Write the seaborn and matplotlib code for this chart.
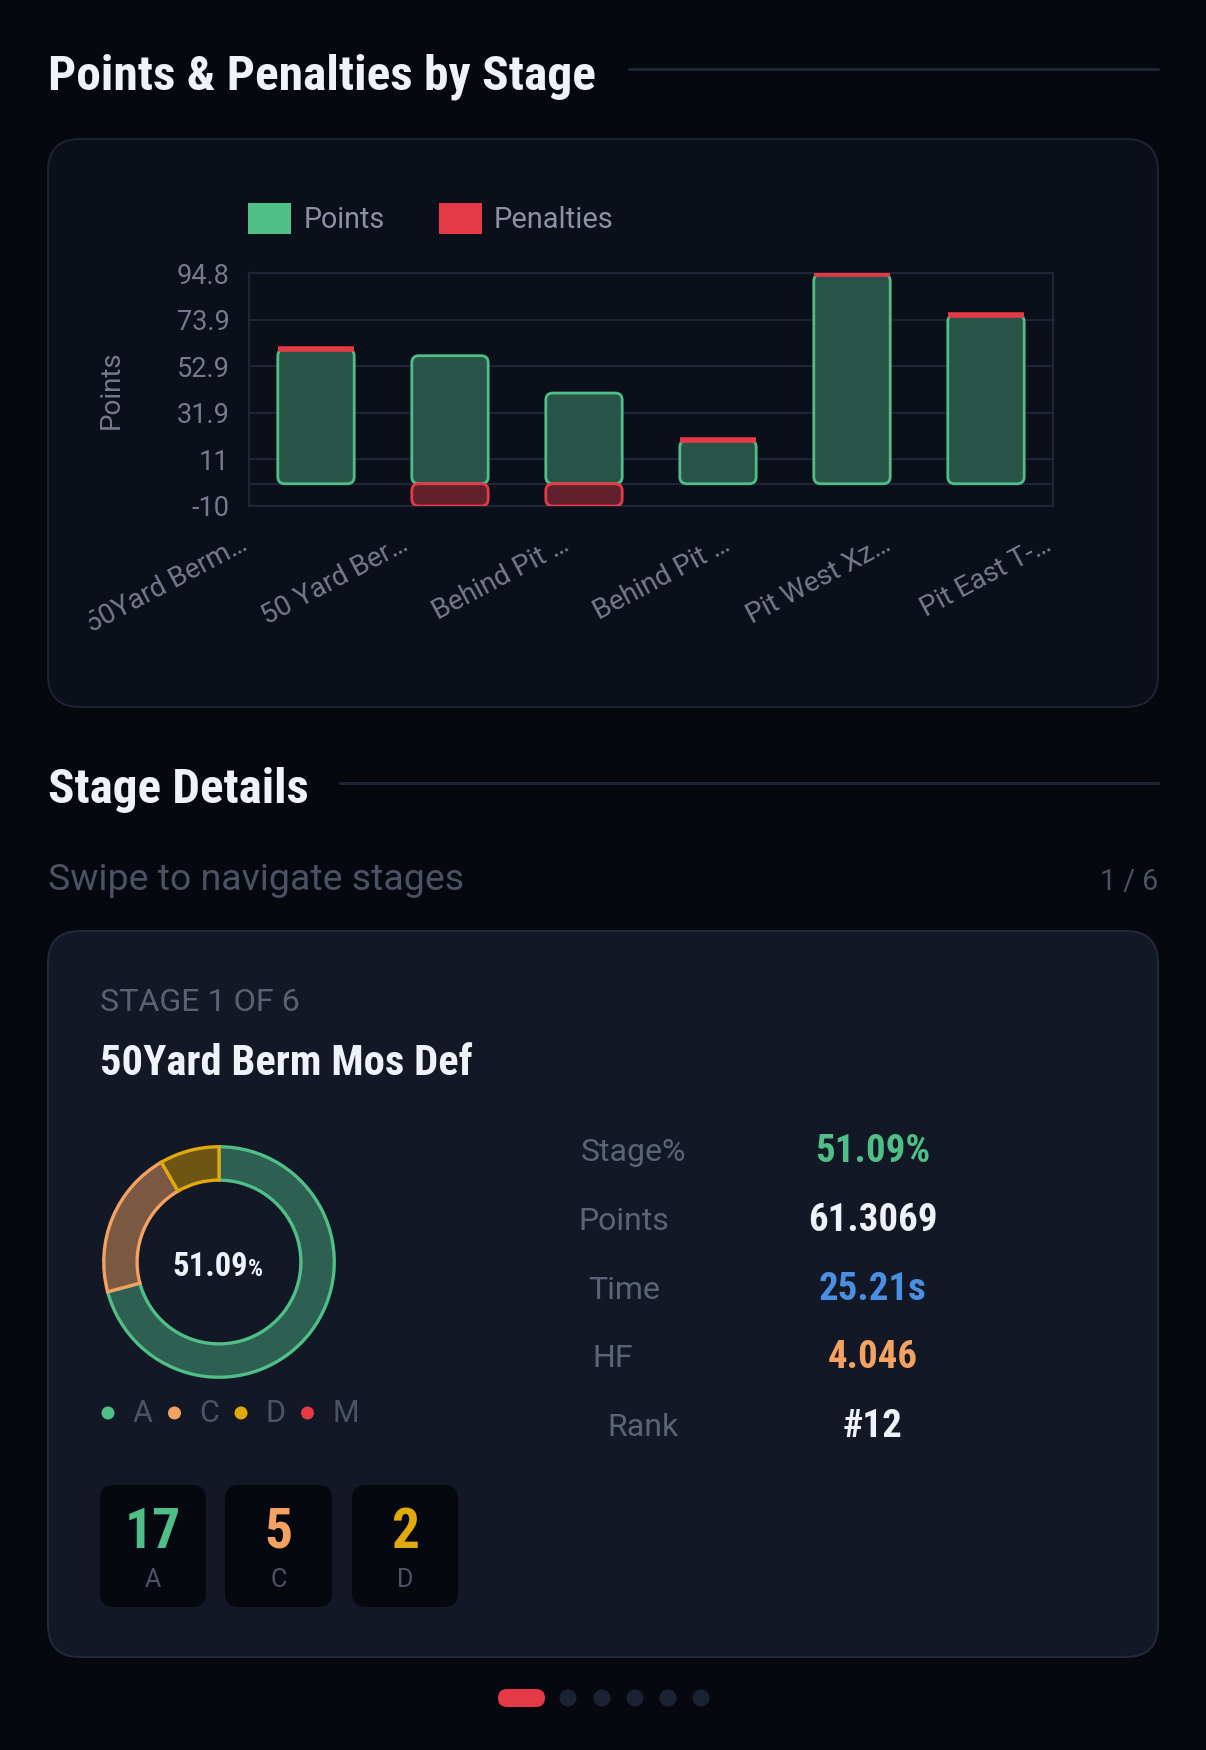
import matplotlib
matplotlib.use("Agg")
import numpy as np
import pandas as pd
import matplotlib.pyplot as plt
import seaborn as sns
from matplotlib import font_manager
from matplotlib.patches import FancyBboxPatch, Rectangle, Circle
from matplotlib.transforms import Bbox

# data
stage_ids = ["s1", "s2", "s3", "s4", "s5", "s6"]
stage_labels = ["50Yard Berm…", "50 Yard Ber…", "Behind Pit …", "Behind Pit …", "Pit West Xz…", "Pit East T-…"]
points = [60.6, 57.6, 40.8, 19.6, 94.3, 76.0]
penalties = [0, -10, -10, 0, 0, 0]
y_ticks = [-10, 10.96, 31.92, 52.88, 73.84, 94.8]
y_tick_labels = ["-10", "11", "31.9", "52.9", "73.9", "94.8"]

hit_labels = ["A", "C", "D", "M"]
hit_counts = [17, 5, 2, 0]
stat_labels = ["Stage%", "Points", "Time", "HF", "Rank"]
stat_values = ["51.09%", "61.3069", "25.21s", "4.046", "#12"]
stage_pct = "51.09"
stage_name = "50Yard Berm Mos Def"

# colours
PAGE = "#05080f"
CARD1 = "#0b0f1a"
CARD2 = "#131826"
BORDER = "#1c2231"
GRID = "#1e2535"
WHITE = "#f0f2f9"
MUTED = "#737b8c"
DIM = "#4a5263"
GREEN = "#4fbf87"
RED = "#e63946"
ORANGE = "#f4a261"
YELLOW = "#e2a90c"
BLUE = "#4a90e2"
BAR_FILL = "#285448"
PEN_FILL = "#60212d"
PIE_FILLS = ["#2d5f52", "#7a5842", "#6d5613", "#5a2029"]
PIE_EDGES = [GREEN, ORANGE, YELLOW, RED]

sns.set_style("dark")
names = {f.name for f in font_manager.fontManager.ttflist}
HEAD = next((n for n in ["Roboto Condensed", "Liberation Sans Narrow", "Roboto"] if n in names), "DejaVu Sans")
BODY = "Roboto" if "Roboto" in names else "DejaVu Sans"
plt.rcParams["font.family"] = [BODY, "DejaVu Sans"]

W, H = 1206, 1750
fig = plt.figure(figsize=(W / 100, H / 100), dpi=100, facecolor=PAGE)
renderer = fig.canvas.get_renderer()

bg = fig.add_axes([0, 0, 1, 1], zorder=0)
bg.set_xlim(0, W)
bg.set_ylim(H, 0)
bg.axis("off")


def box(x0, y0, x1, y1, r, fc, ec="none", lw=0):
    bg.add_patch(FancyBboxPatch((x0, y0), x1 - x0, y1 - y0,
                                boxstyle=f"round,pad=0,rounding_size={r}",
                                fc=fc, ec=ec, lw=lw))


def txt(x, y, s, color, size=20, weight="normal", family=None, ha="left",
        va="baseline", width=None):
    t = bg.text(x, y, s, color=color, fontsize=size, fontweight=weight,
                family=[family or BODY, "DejaVu Sans"], ha=ha, va=va)
    if width:
        w = t.get_window_extent(renderer).width
        t.set_fontsize(size * width / w)
    return t


# section 1 header + card
txt(48, 90, "Points & Penalties by Stage", WHITE, 36, "heavy", HEAD, width=548)
bg.plot([629, 1158], [69, 69], color=GRID, lw=2.2)
box(48, 139, 1158, 707, 32, CARD1, BORDER, 1.5)

# legend
bg.add_patch(Rectangle((248, 203), 43, 31, fc=GREEN, ec="none"))
txt(304, 228, "Points", "#8a92a3", 20, width=81)
bg.add_patch(Rectangle((439, 203), 43, 31, fc=RED, ec="none"))
txt(494, 228, "Penalties", "#8a92a3", 20, width=119)

# bar chart
ax_w, ax_h = 804, 233
ax = fig.add_axes([249 / W, 1 - 506 / H, ax_w / W, ax_h / H], zorder=2)
ax.set_facecolor("none")
df = pd.DataFrame({"stage": stage_ids, "points": points, "penalty": penalties})
sns.barplot(data=df, x="stage", y="points", order=stage_ids, color=BAR_FILL,
            saturation=1, width=0.57, edgecolor=GREEN, linewidth=2.0,
            errorbar=None, ax=ax, zorder=3)
pen = df[df["penalty"] < 0]
sns.barplot(data=pen, x="stage", y="penalty", order=stage_ids, color=PEN_FILL,
            saturation=1, width=0.57, edgecolor=RED, linewidth=2.0,
            errorbar=None, ax=ax, zorder=3)

ax.set_xlim(-0.5, len(stage_ids) - 0.5)
ax.set_ylim(y_ticks[0], y_ticks[-1])

# give the seaborn bars rounded corners like the original
x_per_px = len(stage_ids) / ax_w
y_per_px = (y_ticks[-1] - y_ticks[0]) / ax_h
for p in list(ax.patches):
    x0, y0, w, h = p.get_x(), p.get_y(), p.get_width(), p.get_height()
    if h < 0:
        y0, h = y0 + h, -h
    rb = FancyBboxPatch((x0, y0), w, h,
                        boxstyle=f"round,pad=0,rounding_size={7 * x_per_px}",
                        mutation_aspect=y_per_px / x_per_px,
                        fc=p.get_facecolor(), ec=p.get_edgecolor(),
                        lw=p.get_linewidth(), zorder=3)
    ax.add_patch(rb)
    p.set_visible(False)

# zero penalties sit on top of the points stack
cap = df.index[df["penalty"] == 0]
caps = ax.bar(cap, df.loc[cap, "penalty"], bottom=df.loc[cap, "points"], width=0.57,
              color=RED, edgecolor=RED, linewidth=4.0, zorder=4)
for c in caps:
    c.set_joinstyle("round")

ax.set_yticks(y_ticks, labels=y_tick_labels)
lab_pos = np.linspace(-0.5, len(stage_ids) - 0.5, len(stage_labels))
ax.set_xticks(lab_pos, labels=stage_labels, rotation=28, ha="right",
              va="baseline", rotation_mode="anchor")
ax.tick_params(axis="x", length=0, pad=31, labelsize=20, labelcolor=MUTED)
ax.tick_params(axis="y", length=0, pad=14, labelsize=19.5, labelcolor=MUTED)
clip = Bbox.from_extents(89, 0, W, H)
for lbl in ax.get_xticklabels():
    lbl.set_clip_box(clip)
    lbl.set_clip_on(True)
ax.set_xlabel("")
ax.set_ylabel("Points", color=MUTED, fontsize=20)
ax.yaxis.set_label_coords(-0.155, 0.5)
ax.grid(axis="y", color=GRID, lw=1.6)
ax.grid(axis="x", visible=False)
ax.axhline(0, color=GRID, lw=1.6, zorder=1)
ax.set_axisbelow(True)
for s in ax.spines.values():
    s.set_visible(True)
    s.set_color(GRID)
    s.set_linewidth(1.6)

# section 2 header
txt(48, 803, "Stage Details", WHITE, 36, "heavy", HEAD, width=261)
bg.plot([340, 1158], [783, 783], color=GRID, lw=2.2)
txt(48, 890, "Swipe to navigate stages", DIM, 24, width=416)
txt(1158, 890, "1 / 6", DIM, 24, ha="right", width=58)

box(48, 931, 1158, 1657, 32, CARD2, "#212838", 1.5)
txt(100, 1011, "STAGE 1 OF 6", "#5a6172", 20, width=200)
txt(100, 1075, stage_name, WHITE, 30, "heavy", HEAD, width=373)

# donut
pax = fig.add_axes([(219 - 117) / W, 1 - (1262 + 117) / H, 234 / W, 234 / H], zorder=2)
wedges, _ = pax.pie(hit_counts, startangle=90, counterclock=False,
                    colors=PIE_FILLS, radius=0.985,
                    wedgeprops=dict(width=0.285, linewidth=2.4))
for w_, ec, n in zip(wedges, PIE_EDGES, hit_counts):
    w_.set_edgecolor(ec)
    if n == 0:
        w_.set_linewidth(0)
pax.set_xlim(-1, 1)
pax.set_ylim(-1, 1)
pax.set_facecolor("none")

txt(248, 1276, stage_pct, WHITE, 28, "heavy", HEAD, ha="right", width=76)
txt(248, 1276, "%", WHITE, 17, "heavy", HEAD)

# donut legend
for i, (lab, ec) in enumerate(zip(hit_labels, PIE_EDGES)):
    cx = 108 + i * 66.5
    bg.add_patch(Circle((cx, 1413), 6.5, fc=ec, ec="none"))
    txt(cx + 25, 1422, lab, "#4b5466", 22)

# stats
label_x = [581, 578, 588, 592, 607]
value_colors = [GREEN, WHITE, BLUE, ORANGE, WHITE]
for i, (lab, val) in enumerate(zip(stat_labels, stat_values)):
    yb = 1161 + i * 68.8
    txt(label_x[i], yb, lab, "#5b6476", 23)
    txt(873, yb + 1, val, value_colors[i], 28, "heavy", HEAD, ha="center")

# counts boxes
box_x = [(100, 206), (225, 332), (352, 458)]
for (x0, x1), n, lab, col in zip(box_x, hit_counts[:3], hit_labels[:3], PIE_EDGES[:3]):
    box(x0, 1485, x1, 1607, 14, "#05080f")
    txt((x0 + x1) / 2, 1548, str(n), col, 40, "heavy", HEAD, ha="center")
    txt((x0 + x1) / 2, 1587, lab, "#4b5466", 18, ha="center")

# pagination
box(498, 1689, 545, 1707, 9, RED)
for cx in [568, 602, 635, 668, 701]:
    bg.add_patch(Circle((cx, 1698), 8.5, fc="#1b2233", ec="none"))

fig.savefig("out.png", dpi=100, facecolor=PAGE)
